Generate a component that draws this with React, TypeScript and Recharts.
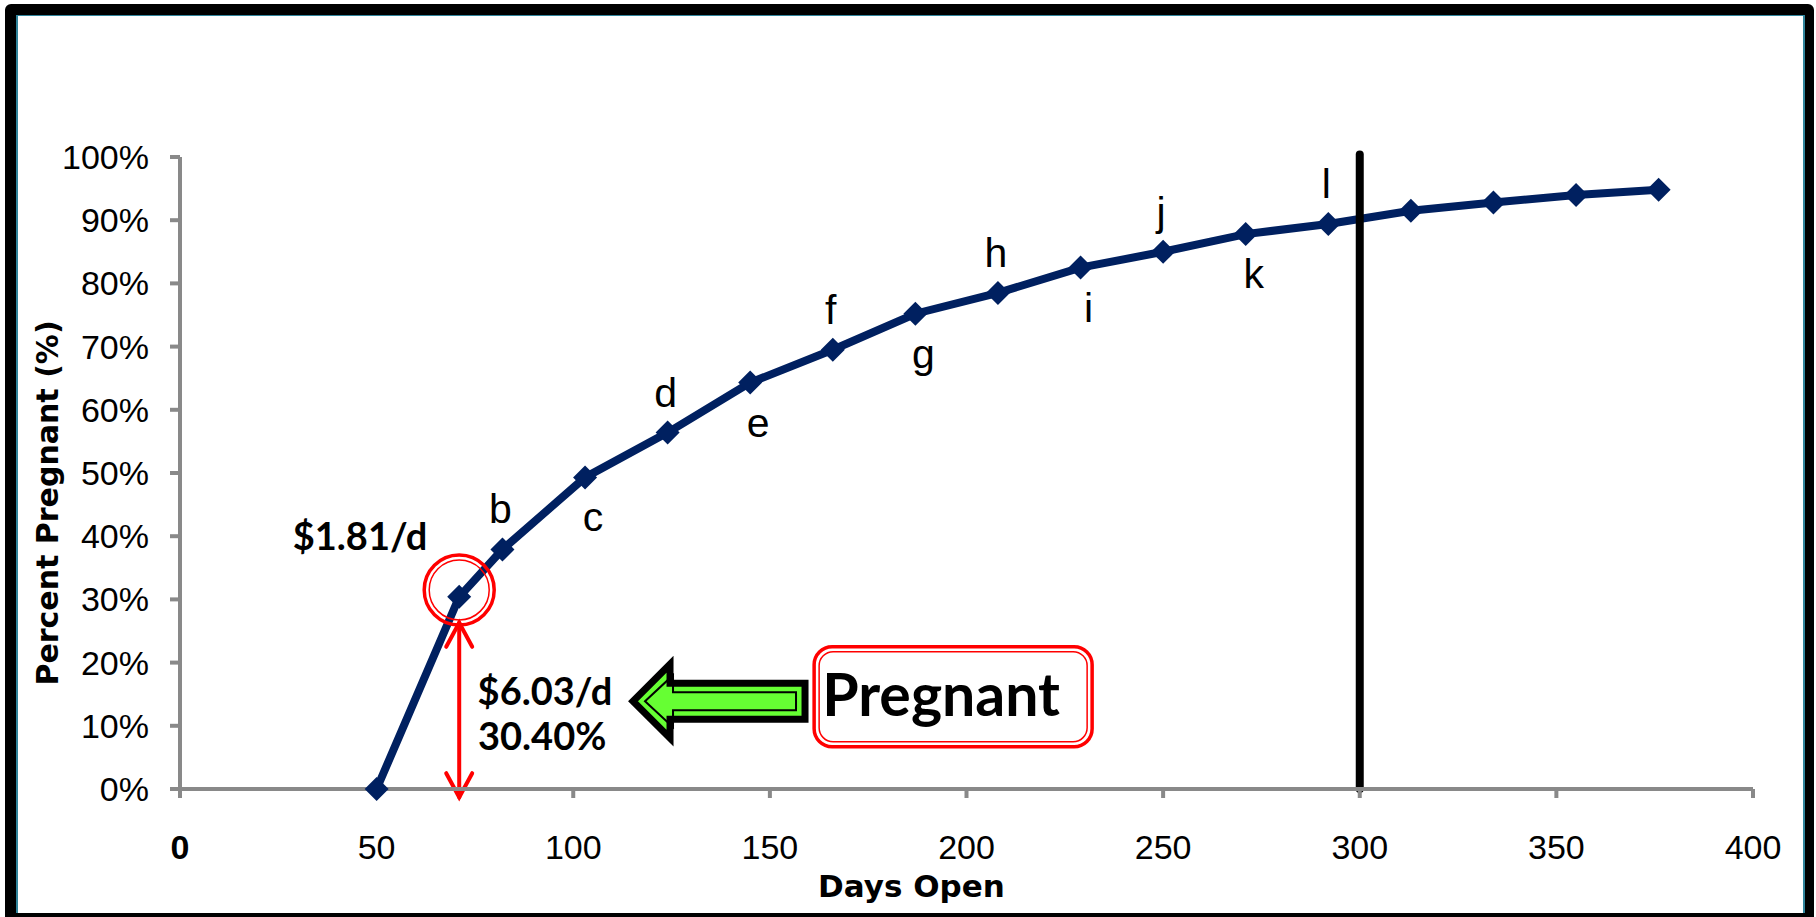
import {
  Label,
  LabelList,
  Line,
  LineChart,
  ReferenceDot,
  ReferenceLine,
  XAxis,
  YAxis,
} from "recharts";

// Days open vs. cumulative percent pregnant.
const days = [50, 71, 82, 103, 124, 145, 166, 187, 208, 229, 250, 271, 292, 313, 334, 355, 376];
const pctPregnant = [0, 30.4, 37.9, 49.3, 56.4, 64.3, 69.5, 75.2, 78.5, 82.5, 85.0, 87.8, 89.4, 91.5, 92.8, 94.0, 94.8];
const pointTags = ["", "", "b", "c", "d", "e", "f", "g", "h", "i", "j", "k", "l", "", "", "", ""];
const tagBelow = [false, false, false, true, false, true, false, true, false, true, false, true, false, false, false, false, false];

const xTicks = [0, 50, 100, 150, 200, 250, 300, 350, 400];
const yTicks = [0, 10, 20, 30, 40, 50, 60, 70, 80, 90, 100];

const cutoffDay = 300;
const breakEvenDay = 71;
const costLabels = ["$1.81/d", "$6.03/d", "30.40%"];
const boxText = "Pregnant";

const NAVY = "#002060";
const AXIS = "#898989";
const RED = "#ff0000";
const SANS = "'Liberation Sans', Arial, sans-serif";
const CALLOUT = "Lato, 'Open Sans', sans-serif";

const rows = days.map((day, i) => ({ day, pct: pctPregnant[i], tag: pointTags[i] }));

function Diamond(props: any) {
  const { cx, cy, index } = props;
  if (cx == null || cy == null) return <g key={index} />;
  const r = 12;
  return (
    <polygon
      key={index}
      points={`${cx},${cy - r} ${cx + r},${cy} ${cx},${cy + r} ${cx - r},${cy}`}
      fill={NAVY}
    />
  );
}

function renderTag(props: any) {
  const { x, y, value, index } = props;
  if (!value) return null;
  const below = tagBelow[index];
  return (
    <text
      x={x + (below ? 8 : -2)}
      y={y + (below ? 40 : -40)}
      textAnchor="middle"
      dominantBaseline="central"
      fontFamily={SANS}
      fontSize={41}
      fill="#000"
    >
      {value}
    </text>
  );
}

function XTick(props: any) {
  const { x, y, payload } = props;
  return (
    <text
      x={x}
      y={y}
      dy="0.71em"
      textAnchor="middle"
      fontFamily={SANS}
      fontSize={34}
      fontWeight={payload.value === 0 ? 700 : 400}
      fill="#000"
    >
      {payload.value}
    </text>
  );
}

const calloutText = (text: string) => (p: any) => (
  <text
    x={p.cx}
    y={p.cy}
    textAnchor="middle"
    fontFamily={CALLOUT}
    fontWeight={700}
    fontSize={38}
    fill="#000"
  >
    {text}
  </text>
);

function GreenArrow(p: any) {
  const { cx, cy } = p;
  const outer = [
    [0, 0], [37, -37], [37, -18], [172, -18], [172, 18], [37, 18], [37, 37],
  ];
  const inner = [
    [12, 0], [40, -26], [40, -9], [163, -9], [163, 9], [40, 9], [40, 26],
  ];
  const pts = (arr: number[][]) => arr.map(([dx, dy]) => `${cx + dx},${cy + dy}`).join(" ");
  return (
    <g>
      <polygon points={pts(outer)} fill="#66ff33" stroke="#000" strokeWidth={7} strokeLinejoin="miter" />
      <polygon points={pts(inner)} fill="none" stroke="#000" strokeWidth={2} />
    </g>
  );
}

function PregnantBox(p: any) {
  const { cx, cy } = p;
  return (
    <g>
      <rect x={cx - 139} y={cy - 50} width={278} height={100} rx={18} fill="#fff" stroke={RED} strokeWidth={3.5} />
      <rect x={cx - 134} y={cy - 45} width={268} height={90} rx={14} fill="none" stroke={RED} strokeWidth={1.5} />
      <text
        x={cx - 12}
        y={cy + 19}
        textAnchor="middle"
        fontFamily={CALLOUT}
        fontWeight={700}
        fontSize={59}
        fill="#000"
      >
        {boxText}
      </text>
    </g>
  );
}

function DoubleRing(p: any) {
  const { cx, cy } = p;
  return (
    <g>
      <circle cx={cx} cy={cy} r={35} fill="none" stroke={RED} strokeWidth={3.5} />
      <circle cx={cx} cy={cy} r={30} fill="none" stroke={RED} strokeWidth={1.5} />
    </g>
  );
}

function RedDoubleArrow(p: any) {
  const { x1, y1, x2, y2 } = p;
  const top = Math.min(y1, y2);
  const bottom = Math.max(y1, y2);
  const x = x1;
  return (
    <g stroke={RED} strokeWidth={4} fill="none" strokeLinecap="round">
      <line x1={x} y1={top} x2={x2} y2={bottom} />
      <polyline points={`${x - 13},${top + 24} ${x},${top} ${x + 13},${top + 24}`} />
      <polyline points={`${x - 13},${bottom - 24} ${x},${bottom} ${x + 13},${bottom - 24}`} />
    </g>
  );
}

export default function App() {
  return (
    <div style={{ position: "absolute", left: 0, top: 0, width: 1816, height: 917, background: "#fff", overflow: "hidden" }}>
      <LineChart width={1816} height={917} data={rows} margin={{ top: 157, right: 63, bottom: 28, left: 20 }}>
        <XAxis
          dataKey="day"
          type="number"
          domain={[0, 400]}
          ticks={xTicks}
          interval={0}
          height={100}
          tick={<XTick />}
          tickSize={9}
          tickMargin={37}
          axisLine={{ stroke: AXIS, strokeWidth: 4 }}
          tickLine={{ stroke: AXIS, strokeWidth: 4 }}
        >
          <Label
            content={(p: any) => (
              <text
                x={p.viewBox.x + p.viewBox.width / 2 - 55}
                y={p.viewBox.y + 97}
                textAnchor="middle"
                dominantBaseline="central"
                fontFamily="'DejaVu Sans', Verdana, sans-serif"
                fontWeight={700}
                fontSize={31}
                fill="#000"
              >
                Days Open
              </text>
            )}
          />
        </XAxis>
        <YAxis
          type="number"
          domain={[0, 100]}
          ticks={yTicks}
          interval={0}
          width={160}
          tickFormatter={(v: number) => `${v}%`}
          tick={{ fontSize: 34, fill: "#000", fontFamily: SANS }}
          tickSize={10}
          tickMargin={21}
          axisLine={{ stroke: AXIS, strokeWidth: 4 }}
          tickLine={{ stroke: AXIS, strokeWidth: 4 }}
        >
          <Label
            content={(p: any) => {
              const cx = p.viewBox.x + 27;
              const cy = p.viewBox.y + p.viewBox.height / 2 + 30;
              return (
                <text
                  x={cx}
                  y={cy}
                  transform={`rotate(-90 ${cx} ${cy})`}
                  textAnchor="middle"
                  dominantBaseline="central"
                  fontFamily="'DejaVu Sans', Verdana, sans-serif"
                  fontWeight={700}
                  fontSize={30}
                  fill="#000"
                >
                  Percent Pregnant (%)
                </text>
              );
            }}
          />
        </YAxis>
        <Line
          dataKey="pct"
          stroke={NAVY}
          strokeWidth={8}
          dot={Diamond}
          activeDot={false}
          isAnimationActive={false}
        >
          <LabelList dataKey="tag" content={renderTag} />
        </Line>
        <ReferenceLine
          segment={[{ x: cutoffDay, y: 0 }, { x: cutoffDay, y: 100.4 }]}
          stroke="#000"
          strokeWidth={8}
          strokeLinecap="round"
          ifOverflow="visible"
        />
        <ReferenceLine
          segment={[{ x: breakEvenDay, y: -1.3 }, { x: breakEvenDay, y: 26.3 }]}
          ifOverflow="visible"
          shape={RedDoubleArrow}
        />
        <ReferenceDot x={breakEvenDay} y={31.5} ifOverflow="visible" shape={DoubleRing} />
        <ReferenceDot x={45.8} y={37.8} ifOverflow="visible" shape={calloutText(costLabels[0])} />
        <ReferenceDot x={92.8} y={13.3} ifOverflow="visible" shape={calloutText(costLabels[1])} />
        <ReferenceDot x={92.1} y={6.2} ifOverflow="visible" shape={calloutText(costLabels[2])} />
        <ReferenceDot x={115.2} y={13.9} ifOverflow="visible" shape={GreenArrow} />
        <ReferenceDot x={196.6} y={14.6} ifOverflow="visible" shape={PregnantBox} />
      </LineChart>
      {/* slide frame */}
      <div
        style={{
          position: "absolute",
          left: 5,
          top: 4,
          width: 1809,
          height: 920,
          boxSizing: "border-box",
          border: "11px solid #000",
          borderRightWidth: 9,
          borderRadius: 6,
          pointerEvents: "none",
        }}
      >
        <div
          style={{
            position: "absolute",
            inset: 0,
            borderLeft: "2px solid #31849b",
            borderRight: "2px solid #31849b",
            borderTop: "1px solid #31849b",
          }}
        />
      </div>
    </div>
  );
}
